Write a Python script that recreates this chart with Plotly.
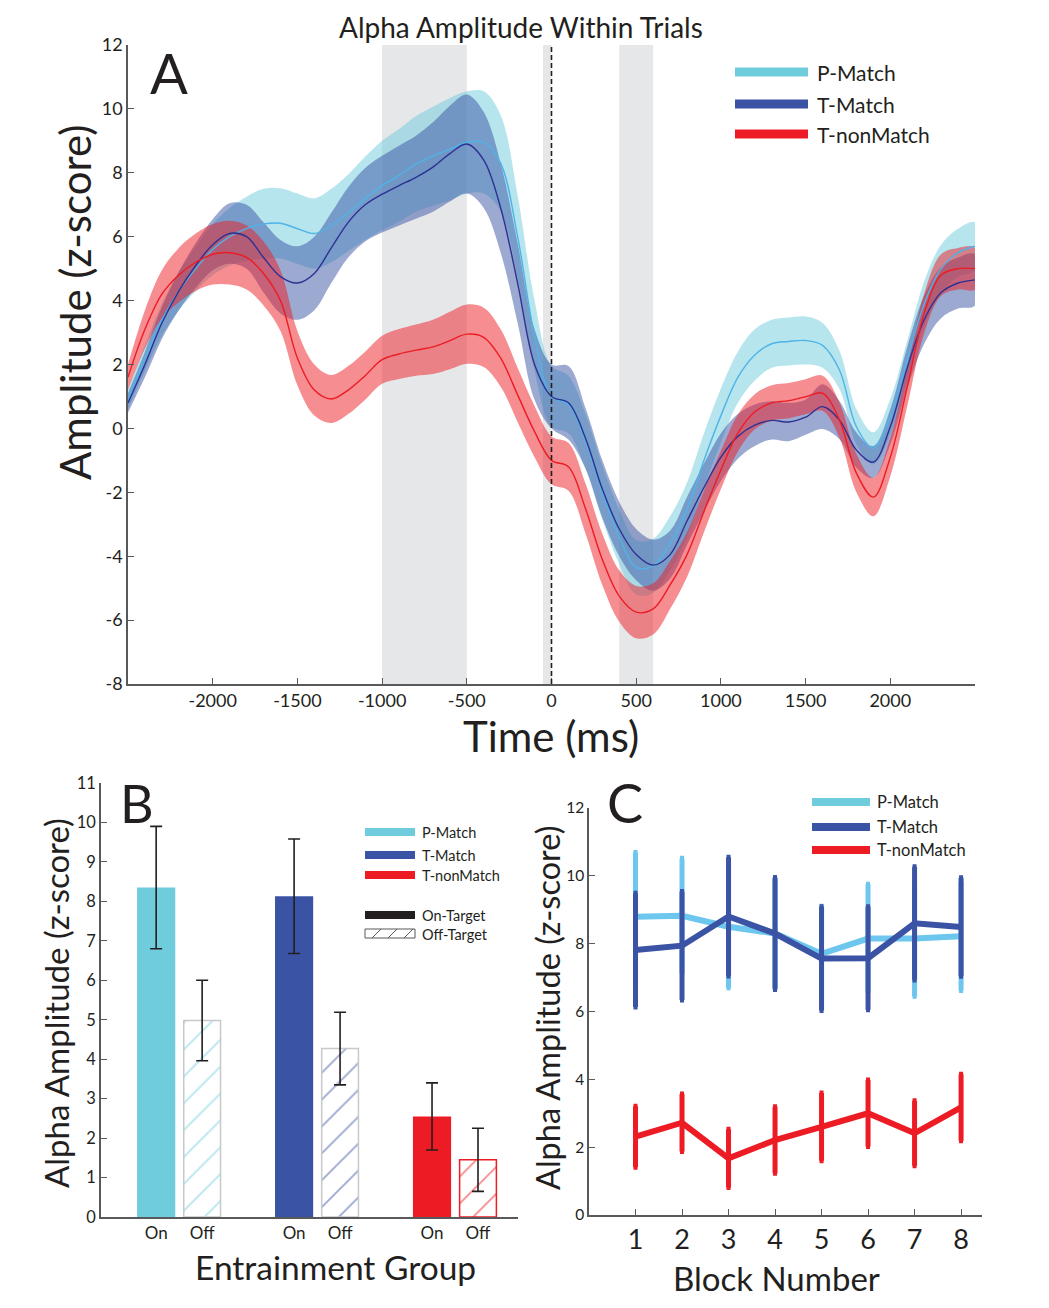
import plotly.graph_objects as go

W, H = 1049, 1308
FONT = "Lato"
TXT = "#231F20"
AX = "#58595B"


def px(x):
    return x / W


def py(y):
    return 1 - y / H


# ---------------- Panel A data ----------------
time_ms = list(range(-2500, 2501, 100))

p_match_mean = [0.9, 2.2, 3.4, 4.3, 5.0, 5.6, 6.0, 6.25, 6.4, 6.42, 6.25, 6.1, 6.35,
                6.75, 7.2, 7.6, 7.92, 8.28, 8.52, 8.74,
                8.95, 8.95, 8.3, 6.0, 2.9, 1.0,
                0.75, -0.4, -2.0, -3.4, -4.35, -4.3,
                -3.6, -2.55, -1.0, 0.4, 1.6, 2.3,
                2.65, 2.72, 2.75, 2.6, 1.83, 0.05,
                -0.62, 0.37, 2.14, 3.9, 5.0, 5.5, 5.7]
p_match_sem = [0.3, 0.4, 0.5, 0.6, 0.7, 0.8, 0.9, 1.0, 1.1, 1.1, 1.1, 1.1, 1.15,
               1.2, 1.3, 1.4, 1.45, 1.5, 1.55, 1.6,
               1.6, 1.6, 1.5, 1.3, 1.1, 0.95,
               0.9, 0.85, 0.85, 0.85, 0.85, 0.85,
               0.85, 0.85, 0.85, 0.85, 0.8, 0.8,
               0.75, 0.75, 0.75, 0.7, 0.6, 0.55,
               0.5, 0.55, 0.6, 0.7, 0.75, 0.75, 0.75]

t_match_mean = [0.8, 2.0, 3.3, 4.3, 5.1, 5.75, 6.1, 6.0, 5.35, 4.75, 4.55, 4.85, 5.65,
                6.45, 7.0, 7.33, 7.6, 7.86, 8.18, 8.6,
                8.9, 8.4, 6.9, 4.55, 2.0, 1.0,
                0.8, -0.3, -1.9, -3.15, -3.95, -4.28,
                -3.95, -2.9, -1.85, -0.9, -0.25, 0.1,
                0.25, 0.2, 0.35, 0.68, 0.26, -0.68,
                -1.05, 0.05, 1.9, 3.4, 4.25, 4.55, 4.65]
t_match_sem = [0.3, 0.4, 0.5, 0.6, 0.7, 0.8, 0.95, 1.0, 1.1, 1.15, 1.15, 1.15, 1.1,
               1.1, 1.15, 1.2, 1.25, 1.3, 1.4, 1.5,
               1.55, 1.5, 1.4, 1.25, 1.1, 1.0,
               1.15, 0.95, 0.9, 0.85, 0.8, 0.8,
               0.75, 0.75, 0.75, 0.75, 0.7, 0.65,
               0.6, 0.6, 0.55, 0.7, 0.6, 0.55,
               0.5, 0.55, 0.65, 0.75, 0.8, 0.8, 0.8]

t_nonmatch_mean = [1.6, 3.1, 4.2, 4.8, 5.2, 5.45, 5.5, 5.35, 4.85, 4.0, 2.2, 1.2, 0.92,
                   1.2, 1.65, 2.15, 2.33, 2.45, 2.55, 2.75,
                   2.95, 2.85, 2.2, 1.05, -0.1, -1.0,
                   -1.2, -2.5, -4.1, -5.25, -5.75, -5.65,
                   -4.9, -3.95, -2.6, -1.3, -0.15, 0.52,
                   0.8, 0.87, 0.99, 1.1, 0.26, -1.4,
                   -2.15, -0.9, 1.3, 3.6, 4.8, 5.0, 5.0]
t_nonmatch_sem = [0.4, 0.6, 0.75, 0.85, 0.9, 0.95, 1.0, 1.0, 1.0, 0.95, 0.85, 0.8, 0.75,
                  0.75, 0.75, 0.75, 0.78, 0.8, 0.85, 0.9,
                  0.93, 0.93, 0.9, 0.85, 0.8, 0.75,
                  0.75, 0.78, 0.8, 0.8, 0.82, 0.8,
                  0.75, 0.7, 0.65, 0.6, 0.58, 0.55,
                  0.55, 0.55, 0.55, 0.55, 0.55, 0.6,
                  0.6, 0.6, 0.6, 0.62, 0.65, 0.65, 0.65]

shaded_windows = [(-1000, -500), (-50, 0), (400, 600)]
a_xticks = [-2000, -1500, -1000, -500, 0, 500, 1000, 1500, 2000]
a_yticks = [-8, -6, -4, -2, 0, 2, 4, 6, 8, 10, 12]

# ---------------- Panel B data ----------------
groups = ["P-Match", "T-Match", "T-nonMatch"]
on_target = [8.35, 8.13, 2.55]
on_target_err = [1.55, 1.45, 0.85]
off_target = [4.98, 4.27, 1.45]
off_target_err = [1.02, 0.92, 0.8]

# ---------------- Panel C data ----------------
blocks = [1, 2, 3, 4, 5, 6, 7, 8]
c_p_match = [8.79, 8.82, 8.5, 8.3, 7.7, 8.15, 8.15, 8.22]
c_p_match_err = [1.9, 1.7, 1.8, 1.6, 1.4, 1.6, 1.7, 1.6]
c_t_match = [7.81, 7.94, 8.8, 8.3, 7.56, 7.57, 8.6, 8.49]
c_t_match_err = [1.68, 1.6, 1.75, 1.65, 1.53, 1.52, 1.67, 1.45]
c_t_nonmatch = [2.31, 2.72, 1.67, 2.21, 2.6, 3.0, 2.41, 3.17]
c_t_nonmatch_err = [0.9, 0.85, 0.86, 0.98, 1.0, 0.98, 0.96, 0.98]

COL_P = "#6ECCDD"
COL_T = "#3A53A4"
COL_N = "#ED1C24"

fig = go.Figure()

# ---- Panel A traces ----
series_a = [
    ("P-Match", p_match_mean, p_match_sem, "rgba(110,204,221,0.5)", "#4FB3E8"),
    ("T-Match", t_match_mean, t_match_sem, "rgba(58,83,164,0.5)", "#2E3192"),
    ("T-nonMatch", t_nonmatch_mean, t_nonmatch_sem, "rgba(237,28,36,0.5)", "#ED1C24"),
]
for name, mean, sem, fillc, linec in series_a:
    upper = [m + s for m, s in zip(mean, sem)]
    lower = [m - s for m, s in zip(mean, sem)]
    fig.add_trace(go.Scatter(
        x=time_ms + time_ms[::-1], y=upper + lower[::-1],
        fill="toself", fillcolor=fillc, line=dict(width=0, shape="spline", smoothing=1),
        mode="lines", hoverinfo="skip", showlegend=False, xaxis="x", yaxis="y"))
for name, mean, sem, fillc, linec in series_a:
    fig.add_trace(go.Scatter(
        x=time_ms, y=mean, mode="lines", name=name,
        line=dict(color=linec, width=1.4, shape="spline", smoothing=1),
        showlegend=False, xaxis="x", yaxis="y"))

# ---- Panel B traces ----
on_x = [g * 3 for g in range(len(groups))]
off_x = [g * 3 + 1 for g in range(len(groups))]
fig.add_trace(go.Bar(
    x=on_x, y=on_target, width=0.83,
    marker=dict(color=[COL_P, COL_T, COL_N], line=dict(width=0)),
    error_y=dict(type="data", array=on_target_err, color="#231F20", thickness=1.6, width=6),
    showlegend=False, xaxis="x2", yaxis="y2"))
fig.add_trace(go.Bar(
    x=off_x, y=off_target, width=0.8,
    marker=dict(color="white",
                line=dict(color=["#C7C8CA", "#C7C8CA", COL_N], width=1.5),
                pattern=dict(shape="/", fgcolor=[COL_P, COL_T, COL_N], bgcolor="white",
                             size=19, solidity=0.1, fillmode="overlay")),
    error_y=dict(type="data", array=off_target_err, color="#231F20", thickness=1.6, width=6),
    showlegend=False, xaxis="x2", yaxis="y2"))

# ---- Panel C traces ----
for vals, errs, col in [(c_p_match, c_p_match_err, "#6DC6EE"),
                        (c_t_match, c_t_match_err, COL_T),
                        (c_t_nonmatch, c_t_nonmatch_err, COL_N)]:
    fig.add_trace(go.Scatter(
        x=blocks, y=vals, mode="lines",
        line=dict(color=col, width=6),
        error_y=dict(type="data", array=errs, color=col, thickness=5, width=2),
        showlegend=False, xaxis="x3", yaxis="y3"))

# ---- shapes ----
shapes = []
for a, b in shaded_windows:
    shapes.append(dict(type="rect", xref="x", yref="y", x0=a, x1=b, y0=-8, y1=12,
                       fillcolor="#E6E7E8", line=dict(width=0), layer="below"))
shapes.append(dict(type="line", xref="x", yref="y", x0=0, x1=0, y0=-8, y1=12,
                   line=dict(color="#231F20", width=1.6, dash="5px,3px"), layer="above"))


def legend_line(x0, x1, y, color, width):
    shapes.append(dict(type="line", xref="paper", yref="paper", x0=px(x0), x1=px(x1),
                       y0=py(y), y1=py(y), line=dict(color=color, width=width)))


annotations = []


def text(x, y, s, size, anchor="left", angle=0, yanchor="middle"):
    annotations.append(dict(xref="paper", yref="paper", x=px(x), y=py(y), text=s,
                            showarrow=False, xanchor=anchor, yanchor=yanchor,
                            textangle=angle, font=dict(family=FONT, size=size, color=TXT)))


# legend A
for yy, col, lab in [(72, COL_P, "P-Match"), (104, COL_T, "T-Match"), (134, COL_N, "T-nonMatch")]:
    legend_line(735, 808, yy, col, 9)
    text(815, yy, lab, 21)
# legend B
for yy, col, lab in [(832, COL_P, "P-Match"), (855, COL_T, "T-Match"), (875, COL_N, "T-nonMatch")]:
    legend_line(365, 415, yy, col, 8)
    text(420, yy, lab, 14.5)
legend_line(365, 415, 915, "#231F20", 8)
text(420, 915, "On-Target", 14.5)
shapes.append(dict(type="rect", xref="paper", yref="paper", x0=px(365), x1=px(415),
                   y0=py(938), y1=py(929), line=dict(color="#58595B", width=1)))
for sx in [372, 388, 404]:
    shapes.append(dict(type="line", xref="paper", yref="paper", x0=px(sx), x1=px(sx + 9),
                       y0=py(938), y1=py(929), line=dict(color="#58595B", width=1)))
text(420, 935, "Off-Target", 14.5)
# legend C
for yy, col, lab in [(802, COL_P, "P-Match"), (827, COL_T, "T-Match"), (850, COL_N, "T-nonMatch")]:
    legend_line(812, 870, yy, col, 8)
    text(875, yy, lab, 16.5)

# titles and panel letters
text(521, 27, "Alpha Amplitude Within Trials", 28, anchor="center")
text(148, 72, "A", 56)
text(118, 803, "B", 52)
text(605, 802, "C", 54)
text(75, 303, "Amplitude (z-score)", 42, anchor="center", angle=-90)
text(551, 736, "Time (ms)", 42, anchor="center")
text(56, 1003, "Alpha Amplitude (z-score)", 33, anchor="center", angle=-90)
text(335, 1267, "Entrainment Group", 33.5, anchor="center")
text(547, 1008, "Alpha Amplitude (z-score)", 32.5, anchor="center", angle=-90)
text(776, 1278, "Block Number", 33, anchor="center")

axis_common = dict(showline=True, linecolor=AX, linewidth=1.5, ticks="inside",
                   tickcolor=AX, ticklen=6, tickwidth=1.2, showgrid=False, zeroline=False,
                   automargin=False,
                   tickfont=dict(family=FONT, size=18, color=TXT))

fig.update_layout(
    width=W, height=H, autosize=False,
    margin=dict(l=0, r=0, t=0, b=0, pad=0, autoexpand=False),
    paper_bgcolor="white", plot_bgcolor="white",
    showlegend=False,
    shapes=shapes, annotations=annotations,
    xaxis=dict(domain=[px(128), px(975)], range=[-2500, 2500], anchor="y",
               tickvals=a_xticks, ticktext=[str(v) for v in a_xticks],
               **axis_common),
    yaxis=dict(domain=[py(684), py(45)], range=[-8, 12], anchor="x",
               tickvals=a_yticks, ticktext=[str(v) for v in a_yticks], **axis_common),
    xaxis2=dict(domain=[px(101), px(518)], range=[-1.2, 7.87], anchor="y2",
                showline=True, linecolor=AX, linewidth=1.5, ticks="", showgrid=False,
                zeroline=False, automargin=False, tickvals=on_x + off_x,
                ticktext=["On"] * 3 + ["Off"] * 3,
                tickfont=dict(family=FONT, size=17, color=TXT)),
    yaxis2=dict(domain=[py(1217), py(783)], range=[0, 11], anchor="x2",
                tickvals=list(range(0, 12)),
                **{**axis_common, "tickfont": dict(family=FONT, size=16.5, color=TXT)}),
    xaxis3=dict(domain=[px(589), px(982)], range=[0, 8.45], anchor="y3",
                tickvals=blocks,
                **{**axis_common, "tickfont": dict(family=FONT, size=27, color=TXT)}),
    yaxis3=dict(domain=[py(1215), py(808)], range=[0, 12], anchor="x3",
                tickvals=list(range(0, 13, 2)),
                **{**axis_common, "tickfont": dict(family=FONT, size=15.5, color=TXT)}),
    barmode="overlay",
)

fig.write_html("out.html")
